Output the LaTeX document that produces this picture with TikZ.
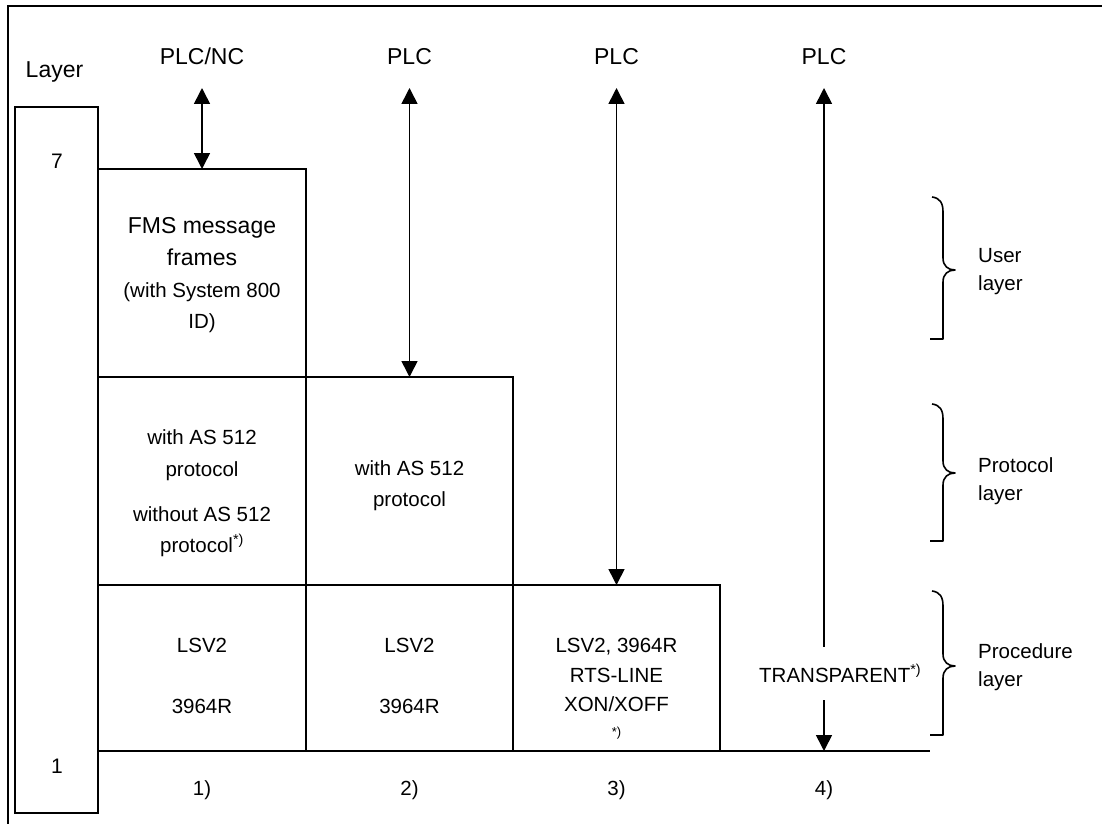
\documentclass[tikz,border=0pt]{standalone}
\usepackage{fontspec}
\setmainfont{Liberation Sans}
\usetikzlibrary{arrows.meta}
\begin{document}
\begin{tikzpicture}[x=1pt,y=-1pt,
  ln/.style={line width=1.6pt},
  frame/.style={line width=2pt},
  cell/.style={draw, line width=1.6pt, inner sep=0pt, outer sep=0pt, anchor=north west},
  lbl/.style={font=\fontsize{23}{26}\selectfont, inner sep=0pt, anchor=base},
  big/.style={font=\fontsize{23}{26}\selectfont, inner sep=0pt, anchor=base},
  txt/.style={font=\fontsize{20.5}{24}\selectfont, inner sep=0pt, anchor=base},
  side/.style={font=\fontsize{20.5}{24}\selectfont, inner sep=0pt, anchor=base west},
  tip/.style={Triangle[width=16pt,length=16pt]},
  arr/.style={line width=1.6pt, -{Triangle[width=16pt,length=16pt]}},
  darr/.style={line width=1.6pt, {Triangle[width=16pt,length=16pt]}-{Triangle[width=16pt,length=16pt]}},
  brace/.style={line width=1.6pt, line join=round}
]
\useasboundingbox (0,0) rectangle (1102,824);

% outer frame (top and left only)
\draw[frame] (1102,6) -- (8,6) -- (8,824);

% layer column
\node[cell, minimum width=83, minimum height=706] (layerbox) at (15,107) {};
\node[lbl] (layerlbl) at (54.5,78) {Layer};
\node[lbl, font=\fontsize{21}{24}\selectfont] (l7) at (57,168) {7};
\node[lbl, font=\fontsize{21}{24}\selectfont] (l1) at (57,773) {1};

% cells
\node[cell, minimum width=208, minimum height=208] (fms) at (98,169) {};
\node[cell, minimum width=208, minimum height=208] (r2c1) at (98,377) {};
\node[cell, minimum width=207, minimum height=208] (r2c2) at (306,377) {};
\node[cell, minimum width=208, minimum height=166] (r3c1) at (98,585) {};
\node[cell, minimum width=207, minimum height=166] (r3c2) at (306,585) {};
\node[cell, minimum width=207, minimum height=166] (r3c3) at (513,585) {};
\coordinate (bl1) at (720,751);
\coordinate (bl2) at (930,751);
\draw[ln] (bl1) -- (bl2);

% cell texts
\node[big] (fmsA) at (202,233) {FMS message};
\node[big] (fmsB) at (202,265) {frames};
\node[txt] (fmsC) at (202,297) {(with System 800};
\node[txt] (fmsD) at (202,328) {ID)};

\node[txt] (p1a) at (202,444) {with AS 512};
\node[txt] (p1b) at (202,476) {protocol};
\node[txt] (p1c) at (202,521) {without AS 512};
\node[txt] (p1d) at (202,552) {protocol\textsuperscript{*)}};

\node[txt] (p2a) at (409.5,475) {with AS 512};
\node[txt] (p2b) at (409.5,506) {protocol};

\node[txt] (s1a) at (202,652) {LSV2};
\node[txt] (s1b) at (202,713) {3964R};
\node[txt] (s2a) at (409.5,652) {LSV2};
\node[txt] (s2b) at (409.5,713) {3964R};
\node[txt] (s3a) at (616.5,652) {LSV2, 3964R};
\node[txt] (s3b) at (616.5,682) {RTS-LINE};
\node[txt] (s3c) at (616.5,711) {XON/XOFF};
\node[txt, font=\fontsize{13}{15}\selectfont] (s3n) at (616.5,736) {*)};
\node[txt, anchor=base west] (trans) at (759,682) {TRANSPARENT\textsuperscript{*)}};

% top labels
\node[lbl] (plc1) at (202,65) {PLC/NC};
\node[lbl] (plc2) at (409.5,65) {PLC};
\node[lbl] (plc3) at (616.5,65) {PLC};
\node[lbl] (plc4) at (824,65) {PLC};

% arrows
\coordinate (a1) at (202,88);
\coordinate (a2) at (409.5,88);
\coordinate (a3) at (616.5,88);
\coordinate (a4) at (824,88);
\coordinate (a4m) at (824,647);
\coordinate (a4n) at (824,700);
\coordinate (a4b) at (824,751);
\draw[darr] (a1) -- (fms.north);
\draw[darr] (a2) -- (r2c2.north);
\draw[darr] (a3) -- (r3c3.north);
\draw[ln, {Triangle[width=16pt,length=16pt]}-] (a4) -- (a4m);
\draw[arr] (a4n) -- (a4b);

% bottom labels
\node[txt] (n1) at (202,795) {1)};
\node[txt] (n2) at (409.5,795) {2)};
\node[txt] (n3) at (616.5,795) {3)};
\node[txt] (n4) at (824,795) {4)};

% braces
\draw[brace] (932,197) .. controls (940,198) and (943,203) .. (943,212) -- (943,258)
  .. controls (943,266) and (948,270) .. (955,270) .. controls (948,270) and (943,274) .. (943,282)
  -- (943,339) -- (930,339);
\draw[brace] (932,404) .. controls (940,405) and (943,410) .. (943,419) -- (943,461)
  .. controls (943,469) and (948,473) .. (955,473) .. controls (948,473) and (943,477) .. (943,485)
  -- (943,541) -- (930,541);
\draw[brace] (932,591) .. controls (940,592) and (943,597) .. (943,606) -- (943,654)
  .. controls (943,662) and (948,666) .. (955,666) .. controls (948,666) and (943,670) .. (943,678)
  -- (943,735) -- (930,735);
\node[side] (user1) at (978,262) {User};
\node[side] (user2) at (978,290) {layer};
\node[side] (prot1) at (978,472) {Protocol};
\node[side] (prot2) at (978,500) {layer};
\node[side] (proc1) at (978,658) {Procedure};
\node[side] (proc2) at (978,686) {layer};
\end{tikzpicture}
\end{document}
